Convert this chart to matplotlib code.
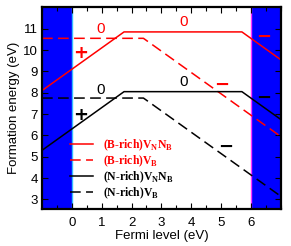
import matplotlib
matplotlib.use("Agg")
import matplotlib.pyplot as plt
from matplotlib.ticker import MultipleLocator

plt.rcParams["font.family"] = "Liberation Sans"
plt.rcParams["mathtext.fontset"] = "custom"
plt.rcParams["mathtext.rm"] = "Liberation Serif:bold"

# polyline vertices (Fermi level, formation energy)
ef_vnnb = [-1.0, 1.75, 5.7, 7.0]
b_rich_vnnb = [8.1, 10.85, 10.85, 9.55]
n_rich_vnnb = [5.3, 8.05, 8.05, 6.75]

ef_vb = [-1.0, 2.4, 7.0]
b_rich_vb = [10.55, 10.55, 5.95]
n_rich_vb = [7.75, 7.75, 3.15]

vbm = 0.0
cbm = 6.0

# charge-state annotations: (x, y, text, colour)
charge_labels = [
    (0.95, 11.0, "0", "red"),
    (3.74, 11.32, "0", "red"),
    (0.28, 9.84, "+", "red"),
    (6.42, 10.62, "\u2212", "red"),
    (5.03, 8.36, "\u2212", "red"),
    (0.95, 8.13, "0", "black"),
    (3.74, 8.51, "0", "black"),
    (0.28, 6.96, "+", "black"),
    (6.42, 7.74, "\u2212", "black"),
    (5.14, 5.48, "\u2212", "black"),
]


def main() -> None:
    fig = plt.figure(figsize=(2.91, 2.46), dpi=100)
    ax = fig.add_axes([0.1443, 0.1504, 0.8203, 0.8196])

    ax.axvspan(-1.0, vbm, color="#0000ff", lw=0, zorder=0)
    ax.axvspan(cbm, 7.0, color="#0000ff", lw=0, zorder=0)
    ax.axvline(vbm, color="#33bbff", lw=1.0, zorder=1)
    ax.axvline(cbm, color="#ff33ff", lw=1.0, zorder=1)

    dash = (0, (7, 3.5))
    ax.plot(ef_vnnb, b_rich_vnnb, color="red", lw=1.1,
            label=r"(B-rich)V$_{\rm N}$N$_{\rm B}$")
    ax.plot(ef_vb, b_rich_vb, color="red", lw=1.1, ls=dash,
            label=r"(B-rich)V$_{\rm B}$")
    ax.plot(ef_vnnb, n_rich_vnnb, color="black", lw=1.1,
            label=r"(N-rich)V$_{\rm N}$N$_{\rm B}$")
    ax.plot(ef_vb, n_rich_vb, color="black", lw=1.1, ls=dash,
            label=r"(N-rich)V$_{\rm B}$")

    for x, y, s, c in charge_labels:
        if s == "0":
            ax.text(x, y, s, color=c, ha="center", va="center", fontsize=11)
        else:
            ax.text(x, y, s, color=c, ha="center", va="center",
                    fontsize=13, fontweight="bold", family="DejaVu Sans")

    ax.set_xlim(-1, 7)
    ax.set_ylim(2.55, 12)
    ax.xaxis.set_minor_locator(MultipleLocator(0.5))
    ax.set_xticks(range(0, 7))
    ax.set_yticks(range(3, 12))
    ax.tick_params(which="both", direction="in", top=True, right=True,
                   labelsize=9.5, length=4, width=0.8, pad=5.5)
    ax.tick_params(axis="y", pad=3)
    ax.tick_params(which="minor", length=3)
    for sp in ax.spines.values():
        sp.set_linewidth(1.6)

    ax.set_xlabel("Fermi level (eV)", fontsize=9.5, labelpad=1)
    ax.set_ylabel("Formation energy (eV)", fontsize=9.5, labelpad=2)

    leg = ax.legend(loc="upper left", bbox_to_anchor=(0.118, 0.355),
                    frameon=False, borderpad=0, borderaxespad=0,
                    handlelength=2.0, handletextpad=0.8, labelspacing=0.05,
                    prop={"family": "Liberation Serif", "weight": "bold",
                          "size": 8.4})
    for txt, line in zip(leg.get_texts(), leg.get_lines()):
        txt.set_color(line.get_color())

    fig.savefig("out.png", dpi=100)
    plt.close(fig)


if __name__ == "__main__":
    main()
